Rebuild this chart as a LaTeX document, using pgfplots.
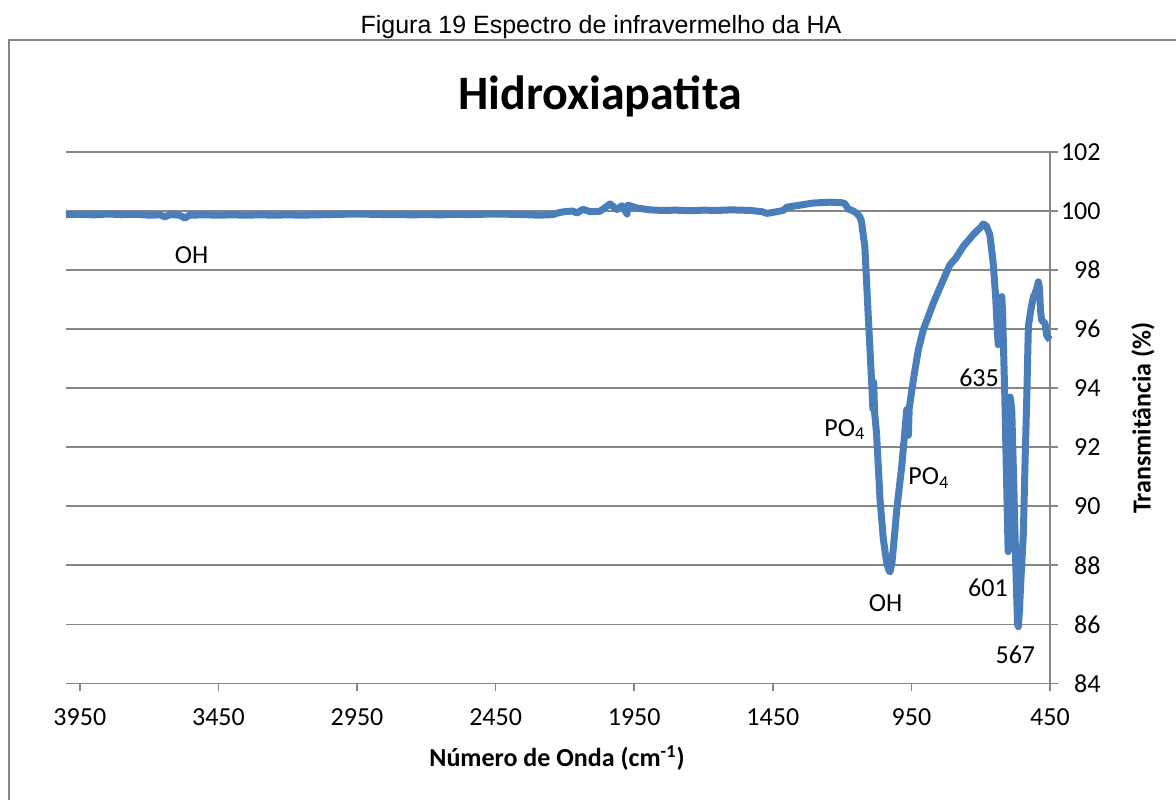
\documentclass[border=0pt]{standalone}
\usepackage{fontspec}
\setmainfont{Carlito}
\newfontfamily\arial{Liberation Sans}
\usepackage{pgfplots}
\pgfplotsset{compat=1.18}
\definecolor{serie}{HTML}{4A7EBB}
\definecolor{grade}{HTML}{868686}

\begin{document}
\begin{tikzpicture}
\useasboundingbox (-33pt,-57.85pt) rectangle (555pt,341.65pt);
% moldura do grafico
\draw[grade, line width=0.6pt] (-28.5pt,-60pt) -- (-28.5pt,321.65pt) -- (560pt,321.65pt);
\begin{axis}[
    at={(0pt,0pt)}, anchor=south west,
    scale only axis,
    width=492pt, height=265.65pt,
    x dir=reverse,
    xmin=450, xmax=4000,
    ymin=84, ymax=102,
    xtick={3950,3450,2950,2450,1950,1450,950,450},
    ytick={84,86,...,102},
    axis line style={draw=none},
    ymajorgrids,
    grid style={grade, line width=0.75pt},
    tick align=outside,
    major tick length=4pt,
    tick style={grade, line width=0.75pt},
    xtick pos=bottom,
    ytick pos=right,
    yticklabel pos=right,
    /pgf/number format/assume math mode=true,
    /pgf/number format/1000 sep={},
    ticklabel style={font=\fontsize{13}{15.6}\selectfont},
    xticklabel style={yshift=-5pt},
    yticklabel style={anchor=east, xshift=24.8pt},
    clip=false,
]
\draw[grade, line width=0.75pt] (axis cs:450,84) -- (axis cs:450,102);
\addplot[serie, line width=3.5pt, line join=round] coordinates {
(4000,99.88) (3950,99.89) (3900,99.87) (3850,99.90) (3800,99.88) (3750,99.89)
(3700,99.86) (3660,99.87) (3643,99.80) (3625,99.88) (3590,99.86) (3571,99.76)
(3555,99.86) (3500,99.87) (3450,99.86) (3400,99.87) (3350,99.86) (3300,99.87)
(3250,99.86) (3200,99.87) (3150,99.86) (3100,99.87) (3050,99.88) (3000,99.89)
(2950,99.90) (2900,99.89) (2850,99.88) (2800,99.88) (2750,99.87) (2700,99.88)
(2650,99.87) (2600,99.89) (2550,99.88) (2500,99.89) (2450,99.90) (2400,99.89)
(2350,99.88) (2326,99.87) (2290,99.86) (2243,99.88) (2220,99.95) (2200,99.98)
(2171,100.00) (2157,99.93) (2135,100.06) (2110,99.98) (2074,99.99) (2037,100.24)
(2012,100.05) (1994,100.18) (1976,99.90) (1973,100.20) (1940,100.10) (1893,100.04)
(1850,100.02) (1800,100.03) (1750,100.01) (1700,100.03) (1650,100.02) (1600,100.04)
(1532,100.02) (1490,99.98) (1471,99.92) (1440,99.97) (1413,100.02) (1399,100.13)
(1352,100.20) (1305,100.27) (1244,100.30) (1200,100.28) (1190,100.25) (1178,100.07)
(1160,100.00) (1148,99.93) (1136,99.80) (1130,99.65) (1124,99.20) (1118,98.80)
(1106,96.50) (1094,94.30) (1089,93.30) (1086,94.20) (1083,93.20) (1076,92.50)
(1063,90.20) (1051,88.86) (1039,88.07) (1030,87.80) (1027,87.78) (1020,88.10)
(1015,88.60) (1003,89.87) (985,91.34) (973,92.59) (967,93.27) (961,92.40)
(958,93.30) (943,94.28) (925,95.30) (907,95.98) (890,96.40) (871,96.88)
(835,97.67) (811,98.18) (790,98.40) (763,98.80) (727,99.20) (700,99.45)
(691,99.56) (680,99.50) (667,99.20) (655,98.24) (646,97.10) (642,96.30)
(637,95.47) (632,96.00) (628,97.00) (624,97.10) (621,96.55) (613,93.70)
(607,91.00) (601,88.46) (597,91.50) (594,93.70) (591,93.50) (588,93.27)
(580,90.50) (572,87.50) (567,86.00) (564,85.92) (560,86.50) (555,87.50)
(546,89.10) (540,91.50) (534,93.60) (528,96.09) (520,96.60) (510,97.10)
(504,97.20) (497,97.40) (492,97.60) (488,97.40) (484,96.60) (480,96.30)
(468,96.20) (462,95.80) (456,95.70) (450,95.64)
};
\begin{scope}[font=\fontsize{13}{15.6}\selectfont]
\node at (axis cs:3547,98.52) {OH};
\node at (axis cs:1190,92.59) {PO\textsubscript{4}};
\node at (axis cs:887,90.96) {PO\textsubscript{4}};
\node at (axis cs:1043,86.72) {OH};
\node at (axis cs:706,94.35) {635};
\node at (axis cs:674,87.23) {601};
\node at (axis cs:575,84.96) {567};
\end{scope}
\end{axis}
\node at (267.5pt,327.9pt) {\arial\fontsize{12.5}{15}\selectfont Figura 19 Espectro de infravermelho da HA};
\node at (267pt,293.65pt) {\fontsize{24}{28}\selectfont\bfseries Hidroxiapatita};
\node at (245.5pt,-37.35pt) {\fontsize{13}{15.6}\selectfont\bfseries Número de Onda (cm\textsuperscript{-1})};
\node[rotate=90] at (538.5pt,132.65pt) {\fontsize{13}{15.6}\selectfont\bfseries Transmitância (\%)};
\end{tikzpicture}
\end{document}
